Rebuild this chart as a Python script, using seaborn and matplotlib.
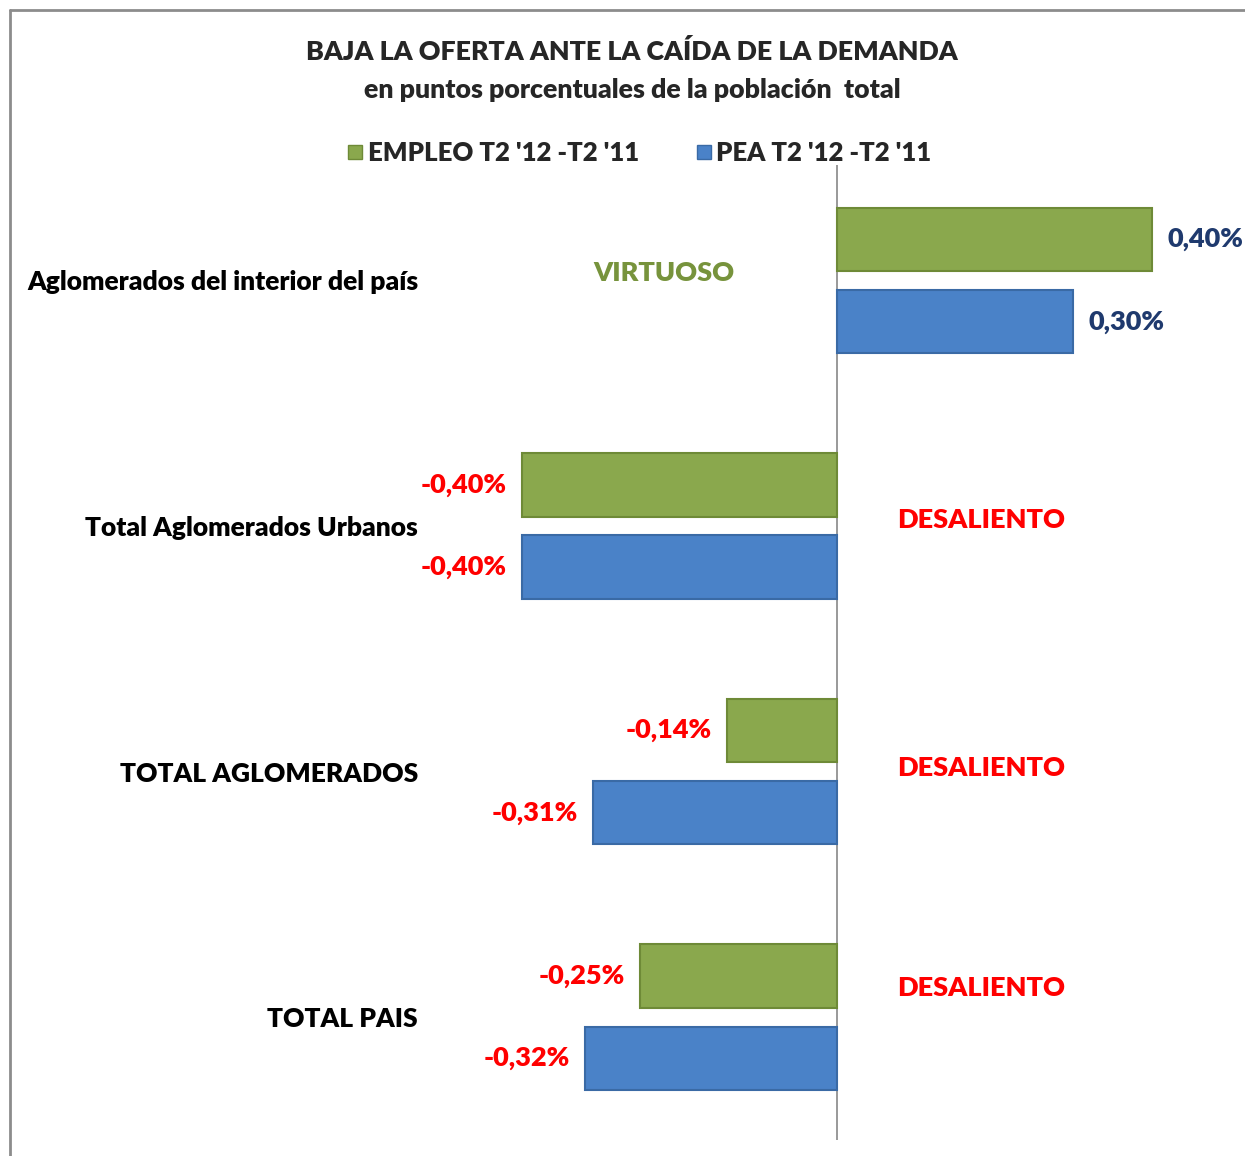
import matplotlib
matplotlib.use("Agg")
import matplotlib.pyplot as plt
import matplotlib.lines as mlines
import pandas as pd
import seaborn as sns

# data (puntos porcentuales)
categorias = ["Aglomerados del interior del país", "Total Aglomerados Urbanos",
              "TOTAL AGLOMERADOS", "TOTAL PAIS"]
empleo = [0.40, -0.40, -0.14, -0.25]
pea = [0.30, -0.40, -0.31, -0.32]
series = ["EMPLEO T2 '12 -T2 '11", "PEA T2 '12 -T2 '11"]
etiquetas_zona = ["VIRTUOSO", "DESALIENTO", "DESALIENTO", "DESALIENTO"]

df = pd.DataFrame({
    "cat": categorias * 2,
    "serie": [series[0]] * 4 + [series[1]] * 4,
    "valor": empleo + pea,
})

sns.set_style("white")
plt.rcParams["font.family"] = ["Lato", "DejaVu Sans"]
W = "heavy"
plt.rcParams["font.weight"] = W

fig = plt.figure(figsize=(12.45, 11.56), dpi=100)
ax = fig.add_axes([443 / 1245, 1 - 1140 / 1156, 788 / 1245, 975 / 1156])

verde = "#8AA84D"
azul = "#4A82C8"
sns.barplot(data=df, y="cat", x="valor", hue="serie", orient="h",
            palette=[verde, azul], saturation=1, width=0.67, gap=0.23, ax=ax,
            edgecolor="none", legend=False)
# bordes mas oscuros
for p, col in zip(ax.patches, ["#6E8A37"] * 4 + ["#3A6AA5"] * 4):
    p.set_edgecolor(col)
    p.set_linewidth(1.5)

ax.set_xlim(-0.5, 0.5)
ax.set_ylim(3.5, -0.47)
ax.axvline(0, color="#888888", lw=1.2, zorder=0)
for s in ax.spines.values():
    s.set_visible(False)
ax.set_xticks([])
ax.set_xlabel("")
ax.set_ylabel("")
ax.tick_params(axis="y", length=0, pad=18)
for t in ax.get_yticklabels():
    t.set_fontsize(19)
    t.set_fontweight(W)
    t.set_color("black")

# etiquetas de valores
for p in ax.patches:
    v = p.get_width()
    yc = p.get_y() + p.get_height() / 2
    txt = f"{v:.2f}%".replace(".", ",")
    if v >= 0:
        ax.annotate(txt, (v, yc), xytext=(11, 0), textcoords="offset points",
                    ha="left", va="center", fontsize=19.5, fontweight=W,
                    color="#1F3A6E", annotation_clip=False)
    else:
        ax.annotate(txt, (v, yc), xytext=(-11, 0), textcoords="offset points",
                    ha="right", va="center", fontsize=19.5, fontweight=W,
                    color="#FF0000", annotation_clip=False)

# zonas
zona_x = [-0.22, 0.183, 0.183, 0.183]
zona_y = [-0.03, 0.977, 1.986, 2.88]
for lab, x, y in zip(etiquetas_zona, zona_x, zona_y):
    ax.text(x, y, lab, ha="center", va="center", fontsize=19.5, fontweight=W,
            color="#77933C" if lab == "VIRTUOSO" else "#FF0000")

# titulo
fig.text(632 / 1245, 1 - 52 / 1156, "BAJA LA OFERTA ANTE LA CAÍDA DE LA DEMANDA",
         ha="center", va="center", fontsize=19.3, fontweight=W)
fig.text(632 / 1245, 1 - 90 / 1156, "en puntos porcentuales de la población  total",
         ha="center", va="center", fontsize=19.3, fontweight=W)

# leyenda
handles = [mlines.Line2D([], [], marker="s", ls="none", markersize=10,
                         markerfacecolor=c, markeredgecolor=e)
           for c, e in [(verde, "#6E8A37"), (azul, "#3A6AA5")]]
fig.legend(handles, series, loc="center", bbox_to_anchor=(637 / 1245, 1 - 153 / 1156),
           ncol=2, frameon=False, handletextpad=0.0, handlelength=1.0,
           columnspacing=2.0, prop={"weight": W, "size": 18.5})

# marco
fig.add_artist(mlines.Line2D([9.5 / 1245, 9.5 / 1245], [0, 1 - 10 / 1156],
                             transform=fig.transFigure, color="#8C8C8C", lw=2))
fig.add_artist(mlines.Line2D([9.5 / 1245, 1], [1 - 10 / 1156, 1 - 10 / 1156],
                             transform=fig.transFigure, color="#8C8C8C", lw=2))

fig.savefig("out.png", dpi=100, facecolor="white")
